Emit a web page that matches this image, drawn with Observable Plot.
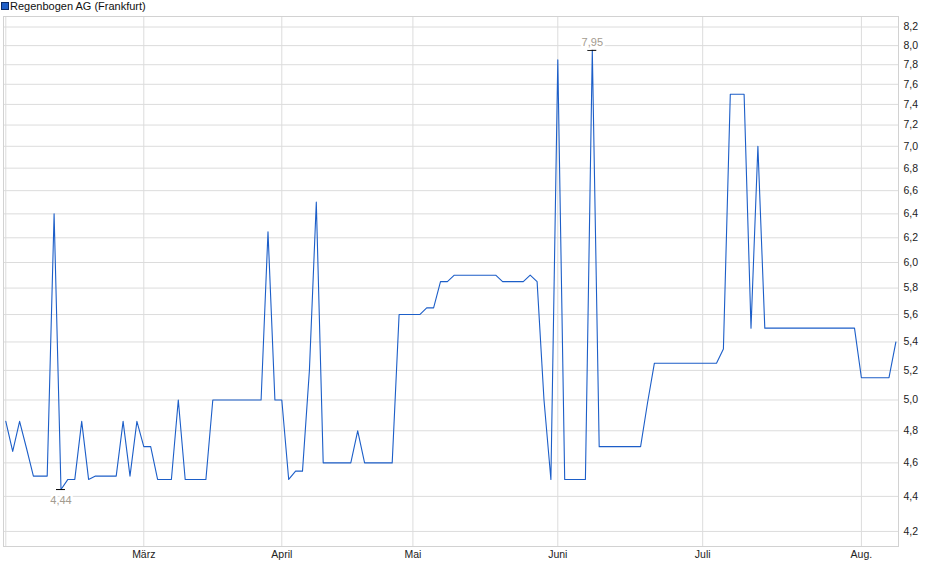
<!DOCTYPE html>
<html>
<head>
<meta charset="utf-8">
<script src="https://cdn.jsdelivr.net/npm/d3@7"></script>
<script src="https://cdn.jsdelivr.net/npm/@observablehq/plot@0.6"></script>
<style>
  html, body { margin: 0; padding: 0; background: #fff; }
  #legend { position: relative; height: 14px; font-family: "Liberation Sans", Arial, sans-serif; font-size: 11px; color: #111; }
  #legend .sw { position: absolute; left: 1px; top: 2px; width: 6px; height: 6px; background: #1f5fc8; border: 1px solid #0b2a66; }
  #legend .lb { position: absolute; left: 10px; top: 0px; line-height: 12px; white-space: nowrap; }
  svg { display: block; }
</style>
</head>
<body>
<div id="legend"><span class="sw"></span><span class="lb">Regenbogen AG (Frankfurt)</span></div>
<div id="chart"></div>
<script>
// Series name
const seriesName = "Regenbogen AG (Frankfurt)";

// Daily closing prices (one per trading day, in order)
const prices = [
  4.86, 4.67, 4.86, 4.69, 4.52, 4.52, 4.52, 6.40, 4.44, 4.50,
  4.50, 4.86, 4.50, 4.52, 4.52, 4.52, 4.52, 4.86, 4.52, 4.86,
  4.70, 4.70, 4.50, 4.50, 4.50, 5.00, 4.50, 4.50, 4.50, 4.50,
  5.00, 5.00, 5.00, 5.00, 5.00, 5.00, 5.00, 5.00, 6.25, 5.00,
  5.00, 4.50, 4.55, 4.55, 5.20, 6.50, 4.60, 4.60, 4.60, 4.60,
  4.60, 4.80, 4.60, 4.60, 4.60, 4.60, 4.60, 5.60, 5.60, 5.60,
  5.60, 5.65, 5.65, 5.85, 5.85, 5.90, 5.90, 5.90, 5.90, 5.90,
  5.90, 5.90, 5.85, 5.85, 5.85, 5.85, 5.90, 5.85, 5.00, 4.50,
  7.85, 4.50, 4.50, 4.50, 4.50, 7.95, 4.70, 4.70, 4.70, 4.70,
  4.70, 4.70, 4.70, 4.98, 5.25, 5.25, 5.25, 5.25, 5.25, 5.25,
  5.25, 5.25, 5.25, 5.25, 5.35, 7.50, 7.50, 7.50, 5.50, 7.00,
  5.50, 5.50, 5.50, 5.50, 5.50, 5.50, 5.50, 5.50, 5.50, 5.50,
  5.50, 5.50, 5.50, 5.50, 5.15, 5.15, 5.15, 5.15, 5.15, 5.40
];

// Month tick labels and the trading-day index where each month starts
const monthLabels = ["März", "April", "Mai", "Juni", "Juli", "Aug."];
const monthStarts = [20, 40, 59, 80, 101, 124];
const firstMonthStart = 0; // February (unlabelled)

// Price axis ticks
const priceTicks = [4.2, 4.4, 4.6, 4.8, 5.0, 5.2, 5.4, 5.6, 5.8, 6.0, 6.2, 6.4, 6.6, 6.8, 7.0, 7.2, 7.4, 7.6, 7.8, 8.0, 8.2];

const data = prices.map((v, i) => ({i, v}));
const minIdx = d3.minIndex(prices);
const maxIdx = d3.maxIndex(prices);
const lows = [data[minIdx]];
const highs = [data[maxIdx]];
const labelAt = new Map(monthStarts.map((m, k) => [m, monthLabels[k]]));
const fmt = v => v.toFixed(2).replace(".", ",");

const plot = Plot.plot({
  width: 940,
  height: 565,
  marginTop: 2,
  marginBottom: 33,
  marginLeft: 3,
  marginRight: 42,
  style: {fontFamily: "'Liberation Sans', Arial, sans-serif", fontSize: "10.5px", background: "#fff", color: "#222"},
  x: {type: "linear", domain: [-0.333, 129.377], axis: null},
  y: {type: "log", domain: [4.117, 8.315], axis: null},
  marks: [
    Plot.gridY(priceTicks, {stroke: "#dcdcdc", strokeOpacity: 1}),
    Plot.gridX([firstMonthStart, ...monthStarts], {stroke: "#dcdcdc", strokeOpacity: 1}),
    Plot.frame({stroke: "#d2d2d2"}),
    Plot.axisY(priceTicks, {anchor: "right", label: null, tickSize: 0, tickPadding: 5, textAnchor: "start", tickFormat: d => d.toFixed(1).replace(".", ","), fill: "#222"}),
    Plot.axisX(monthStarts, {anchor: "bottom", label: null, tickSize: 0, tickPadding: 4, tickFormat: d => labelAt.get(d), fill: "#222"}),
    Plot.line(data, {x: "i", y: "v", stroke: "#1c5ec8", strokeWidth: 1.1}),
    Plot.ruleY([...lows, ...highs], {y: "v", x1: d => d.i - 0.65, x2: d => d.i + 0.65, stroke: "#000", strokeWidth: 1}),
    Plot.text(lows, {x: "i", y: "v", text: d => fmt(d.v), dy: 11, fill: "#a39b8f", stroke: "#fff", strokeWidth: 5, fontSize: 11}),
    Plot.text(highs, {x: "i", y: "v", text: d => fmt(d.v), dy: -8, fill: "#a39b8f", stroke: "#fff", strokeWidth: 5, fontSize: 11})
  ]
});
document.getElementById("chart").appendChild(plot);
</script>
</body>
</html>
